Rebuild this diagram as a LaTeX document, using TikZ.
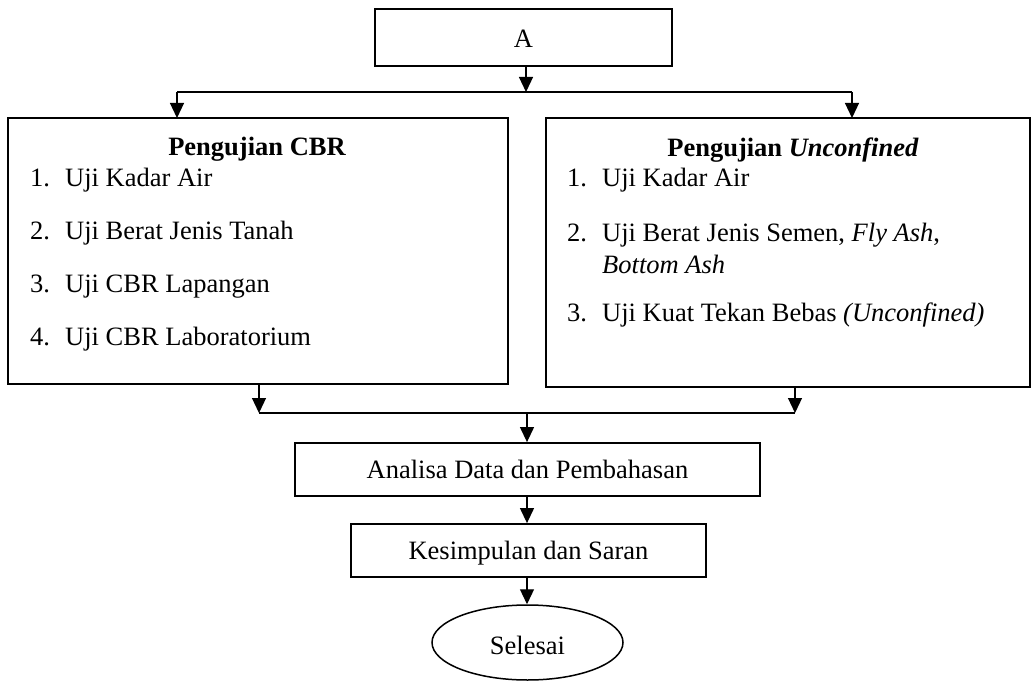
\documentclass[tikz,border=0pt]{standalone}
\usepackage{fontspec}
\setmainfont{Liberation Serif}
\usetikzlibrary{arrows.meta,shapes.geometric}
\begin{document}
\begin{tikzpicture}[x=1pt,y=-1pt,
  every node/.style={font=\fontsize{26.5}{32}\selectfont},
  box/.style={draw, line width=1.8pt, inner sep=0pt, text height=17.5pt, text depth=0pt},
  conn/.style={line width=1.2pt},
  arr/.style={conn, -{Triangle[width=14pt,length=15pt]}},
  txt/.style={inner sep=0pt, anchor=base west},
  head/.style={inner sep=0pt, anchor=base, font=\fontsize{26.5}{32}\selectfont\bfseries}]
\useasboundingbox (0,0) rectangle (1033,682);

% boxes
\node[box, minimum width=297pt, minimum height=57pt, text height=20.5pt] (A) at (523.5,37.5) {A};
\node[box, minimum width=500pt, minimum height=266pt] (L) at (258,251) {};
\node[box, minimum width=484pt, minimum height=269pt] (R) at (788,252.5) {};
\node[box, minimum width=465pt, minimum height=53pt] (An) at (527.5,469.5) {Analisa Data dan Pembahasan};
\node[box, minimum width=355pt, minimum height=53pt] (K) at (528.5,550.5) {Kesimpulan dan Saran};
\node[box, ellipse, line width=1.5pt, minimum width=191pt, minimum height=75pt, text height=23pt] (S) at (527.5,642.5) {Selesai};

% left box texts
\node[head] (lh) at (257,156) {Pengujian CBR};
\node[txt] (ln1) at (30,186) {1.};
\node[txt] (lt1) at (65,186) {Uji Kadar Air};
\node[txt] (ln2) at (30,239) {2.};
\node[txt] (lt2) at (65,239) {Uji Berat Jenis Tanah};
\node[txt] (ln3) at (30,292.5) {3.};
\node[txt] (lt3) at (65,292.5) {Uji CBR Lapangan};
\node[txt] (ln4) at (30,345.5) {4.};
\node[txt] (lt4) at (65,345.5) {Uji CBR Laboratorium};

% right box texts
\node[head] (rh) at (793,156.5) {Pengujian \textit{Unconfined}};
\node[txt] (rn1) at (567,186.5) {1.};
\node[txt] (rt1) at (602,186.5) {Uji Kadar Air};
\node[txt] (rn2) at (567,241) {2.};
\node[txt] (rt2) at (602,241) {Uji Berat Jenis Semen, \textit{Fly Ash},};
\node[txt] (rt2b) at (602,273) {\textit{Bottom Ash}};
\node[txt] (rn3) at (567,321) {3.};
\node[txt] (rt3) at (602,321) {Uji Kuat Tekan Bebas \textit{(Unconfined)}};

% junction coordinates
\coordinate (j1) at (526,92);
\coordinate (j1l) at (177,92);
\coordinate (j1r) at (852,92);
\coordinate (lin) at (177,118);
\coordinate (rin) at (852,118);
\coordinate (lout) at (259,384);
\coordinate (rout) at (795,387);
\coordinate (j2l) at (259,413);
\coordinate (j2r) at (795,413);
\coordinate (j2) at (527,413);

% connectors
\draw[arr] (A.south -| j1) -- (j1);
\draw[conn] (j1l) -- (j1r);
\draw[arr] (j1l) -- (lin);
\draw[arr] (j1r) -- (rin);
\draw[arr] (lout) -- (j2l);
\draw[arr] (rout) -- (j2r);
\draw[conn] (j2l) -- (j2r);
\draw[arr] (j2) -- (j2 |- An.north);
\draw[arr] (An.south -| j2) -- (K.north -| j2);
\draw[arr] (K.south -| j2) -- (S.north -| j2);
\end{tikzpicture}
\end{document}
